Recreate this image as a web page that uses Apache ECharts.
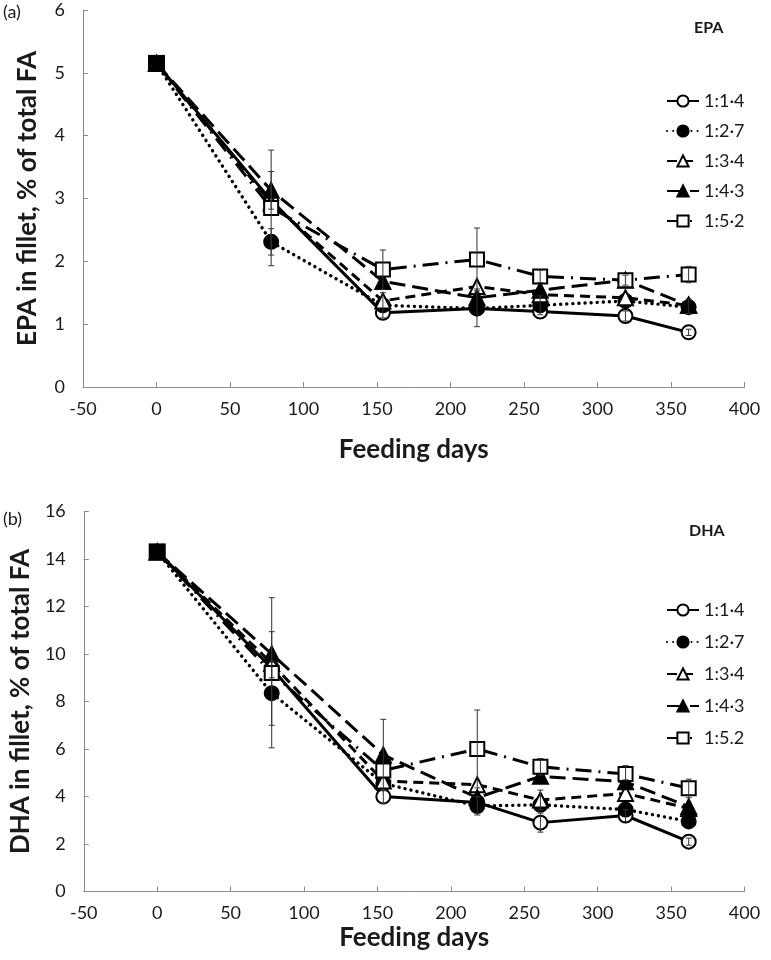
<!DOCTYPE html>
<html>
<head>
<meta charset="utf-8">
<script src="https://cdn.jsdelivr.net/npm/echarts@6/dist/echarts.min.js"></script>
<style>html,body{margin:0;padding:0;background:#fff}#c{width:771px;height:960px}</style>
</head>
<body>
<div id="c"></div>
<script>
// Feeding days (x values)
const days = [0, 78, 154, 218, 261, 319, 362];
// Series names
const namesTop = ['1:1·4', '1:2·7', '1:3·4', '1:4·3', '1:5·2'];
const namesBottom = ['1:1·4', '1:2·7', '1:3·4', '1:4·3', '1:5.2'];
// EPA (% of total FA)
const epa1 = [5.15, 2.97, 1.18, 1.25, 1.20, 1.13, 0.87];
const epa2 = [5.15, 2.31, 1.30, 1.25, 1.30, 1.37, 1.27];
const epa3 = [5.15, 2.93, 1.37, 1.60, 1.47, 1.42, 1.30];
const epa4 = [5.15, 3.13, 1.68, 1.42, 1.54, 1.70, 1.30];
const epa5 = [5.15, 2.85, 1.87, 2.03, 1.76, 1.70, 1.79];
// DHA (% of total FA)
const dha1 = [14.3, 9.4, 4.0, 3.75, 2.9, 3.2, 2.1];
const dha2 = [14.3, 8.35, 4.55, 3.6, 3.65, 3.45, 2.95];
const dha3 = [14.3, 9.6, 4.65, 4.5, 3.85, 4.13, 3.5];
const dha4 = [14.3, 10.0, 5.75, 3.95, 4.85, 4.62, 3.57];
const dha5 = [14.3, 9.2, 5.1, 6.0, 5.25, 4.95, 4.35];
// Error bars [day, low, high]
const epaErr = [[78,1.93,3.77],[78,2.83,3.43],[78,2.1,2.52],[154,1.55,2.18],[154,1.1,1.5],[218,1.53,2.53],[218,0.96,1.56],[261,1.66,1.86],[261,1.15,1.45],[319,1.62,1.78],[319,1.05,1.21],[362,1.66,1.92],[362,1.17,1.4],[362,0.82,0.92]];
const dhaErr = [[78,6.05,12.37],[78,9.0,10.94],[78,7.0,9.7],[154,4.25,7.25],[154,3.7,4.3],[218,4.36,7.64],[218,3.22,4.0],[261,3.45,4.27],[261,2.5,3.3],[261,4.9,5.6],[319,4.7,5.3],[319,2.95,3.45],[362,3.95,4.73],[362,1.95,2.25]];

const FONT = 'Lato';
const TXT = '#1a1a1a';
const AX = '#8a8a8a';

const styles = [
  {symbol:'circle', fill:'#fff', line:{type:'solid', width:3}},
  {symbol:'circle', fill:'#000', line:{type:[0.1,6], width:3.4, cap:'round'}},
  {symbol:'triangle', fill:'#fff', line:{type:[10,6], width:3}},
  {symbol:'triangle', fill:'#000', line:{type:[16,7], width:3}},
  {symbol:'rect', fill:'#fff', line:{type:[16,7,2,7], width:3}}
];

function pairs(v){ return days.map((d,i)=>[d, v[i]]); }

function mkSeries(names, arrs, gi){
  return arrs.map((a,k)=>({
    type:'line', name:names[k], xAxisIndex:gi, yAxisIndex:gi,
    data:pairs(a), symbol:styles[k].symbol, symbolSize: styles[k].symbol==='triangle'?15:14,
    lineStyle:Object.assign({color:'#000'}, styles[k].line),
    itemStyle:{color:styles[k].fill, borderColor:'#000', borderWidth:2},
    z: 3 + k, animation:false
  }));
}

function errSeries(data, gi){
  return {
    type:'custom', xAxisIndex:gi, yAxisIndex:gi, data:data, z:10, animation:false, silent:true,
    renderItem:function(params, api){
      const x = api.value(0);
      const lo = api.coord([x, api.value(1)]);
      const hi = api.coord([x, api.value(2)]);
      const st = {stroke:'#333', lineWidth:1};
      return {type:'group', children:[
        {type:'line', shape:{x1:lo[0],y1:lo[1],x2:hi[0],y2:hi[1]}, style:st},
        {type:'line', shape:{x1:lo[0]-3,y1:lo[1],x2:lo[0]+3,y2:lo[1]}, style:st},
        {type:'line', shape:{x1:hi[0]-3,y1:hi[1],x2:hi[0]+3,y2:hi[1]}, style:st}
      ]};
    }
  };
}

function xAx(gi, gap){
  return {type:'value', gridIndex:gi, min:-50, max:400, interval:50,
    axisLine:{onZero:false, lineStyle:{color:AX, width:1}},
    axisTick:{inside:true, length:5, lineStyle:{color:AX}},
    axisLabel:{color:TXT, fontFamily:FONT, fontSize:18, margin:13},
    splitLine:{show:false},
    name:'Feeding days', nameLocation:'middle', nameGap:gap,
    nameTextStyle:{color:TXT, fontFamily:FONT, fontSize:26, fontWeight:'bold'}};
}
function yAx(gi, max, interval, name){
  return {type:'value', gridIndex:gi, min:0, max:max, interval:interval,
    axisLine:{show:true, onZero:false, lineStyle:{color:AX, width:1}},
    axisTick:{show:true, inside:true, length:5, lineStyle:{color:AX}},
    axisLabel:{color:TXT, fontFamily:FONT, fontSize:18, margin:18},
    splitLine:{show:false},
    name:name, nameLocation:'middle', nameGap:42, nameRotate:90,
    nameTextStyle:{color:TXT, fontFamily:FONT, fontSize:26, fontWeight:'bold'}};
}

function legend(names, top, gap){
  return {orient:'vertical', left:661, top:top, itemWidth:32, itemHeight:14, itemGap:gap,
    data:names, selectedMode:false,
    textStyle:{color:TXT, fontFamily:FONT, fontSize:18}};
}

const option = {
  backgroundColor:'#fff',
  animation:false,
  grid:[
    {left:83, top:10, width:661.5, height:377},
    {left:83, top:511.5, width:661.5, height:380}
  ],
  xAxis:[xAx(0, 50), xAx(1, 33)],
  yAxis:[yAx(0, 6, 1, 'EPA in fillet, % of total FA'), yAx(1, 16, 2, 'DHA in fillet, % of total FA')],
  legend:[legend(namesTop, 87, 12), legend(namesBottom, 596, 14)],
  graphic:[
    {type:'text', left:3, top:3, style:{text:'(a)', font:'18px Lato', fill:TXT}},
    {type:'text', left:3, top:510, style:{text:'(b)', font:'18px Lato', fill:TXT}},
    {type:'text', left:694, top:20, style:{text:'EPA', font:'bold 16px Lato', fill:TXT}},
    {type:'text', left:689, top:523, style:{text:'DHA', font:'bold 16px Lato', fill:TXT}}
  ],
  series:[].concat(
    mkSeries(namesTop, [epa1, epa2, epa3, epa4, epa5], 0),
    mkSeries(namesBottom, [dha1, dha2, dha3, dha4, dha5], 1),
    [errSeries(epaErr, 0), errSeries(dhaErr, 1),
     {type:'scatter', xAxisIndex:0, yAxisIndex:0, data:[[days[0], epa5[0]]], symbol:'rect', symbolSize:17, itemStyle:{color:'#000', opacity:1}, z:12, animation:false},
     {type:'scatter', xAxisIndex:1, yAxisIndex:1, data:[[days[0], dha5[0]]], symbol:'rect', symbolSize:17, itemStyle:{color:'#000', opacity:1}, z:12, animation:false}]
  )
};
const chart = echarts.init(document.getElementById('c'), null, {renderer:'canvas'});
chart.setOption(option);
</script>
</body>
</html>
